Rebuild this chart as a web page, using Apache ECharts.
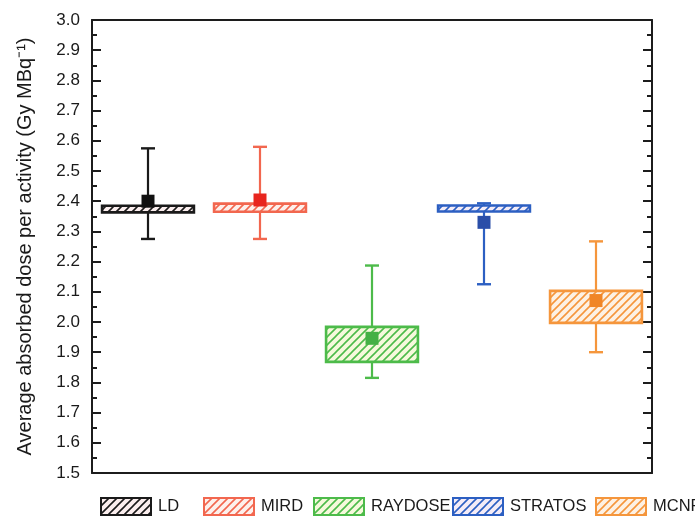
<!DOCTYPE html>
<html>
<head>
<meta charset="utf-8">
<script src="https://cdn.jsdelivr.net/npm/echarts@6/dist/echarts.min.js"></script>
<style>
html,body{margin:0;padding:0;background:#fff;}
#chart{width:695px;height:517px;}
</style>
</head>
<body>
<div id="chart"></div>
<script>
// ---- data ----
var categories = ['LD', 'MIRD', 'RAYDOSE', 'STRATOS', 'MCNP'];
var whiskerLow  = [2.275, 2.275, 1.815, 2.125, 1.900];
var boxLow      = [2.363, 2.365, 1.868, 2.366, 1.997];
var boxHigh     = [2.385, 2.392, 1.984, 2.386, 2.103];
var whiskerHigh = [2.575, 2.580, 2.187, 2.393, 2.267];
var means       = [2.400, 2.404, 1.946, 2.330, 2.071];
var yTicks = [1.5, 1.6, 1.7, 1.8, 1.9, 2.0, 2.1, 2.2, 2.3, 2.4, 2.5, 2.6, 2.7, 2.8, 2.9, 3.0];

// ---- styles ----
var lineColors = ['#1a1a1a', '#f2674f', '#4dbb4a', '#2c5fc2', '#f5963c'];
var markColors = ['#111111', '#e8251e', '#45b045', '#2a4ea8', '#f08526'];
var bgColors   = ['#fbeeee', '#fdf0ec', '#f6f9dc', '#f4ecf7', '#fdf1e4'];
var legendLeft = [100, 203, 313, 452, 595];
var FONT = 'Liberation Sans, Arial, sans-serif';

function hatch(color, bg) {
  var c = document.createElement('canvas');
  c.width = 8; c.height = 8;
  var ctx = c.getContext('2d');
  ctx.fillStyle = bg; ctx.fillRect(0, 0, 8, 8);
  ctx.strokeStyle = color; ctx.lineWidth = 1.6;
  ctx.beginPath();
  ctx.moveTo(0, 8); ctx.lineTo(8, 0);
  ctx.moveTo(-1, 1); ctx.lineTo(1, -1);
  ctx.moveTo(7, 9); ctx.lineTo(9, 7);
  ctx.stroke();
  return { image: c, repeat: 'repeat' };
}
var patterns = categories.map(function (n, i) { return hatch(lineColors[i], bgColors[i]); });

function renderBox(params, api) {
  var idx = api.value(0);
  var x = api.coord([idx, 0])[0];
  var bw = api.size([1, 0])[0] * 0.82;
  var pWL = api.coord([idx, api.value(1)])[1];
  var pBL = api.coord([idx, api.value(2)])[1];
  var pBH = api.coord([idx, api.value(3)])[1];
  var pWH = api.coord([idx, api.value(4)])[1];
  var pM  = api.coord([idx, api.value(5)])[1];
  var col = lineColors[idx];
  var cap = 7, sq = 6.5;
  return {
    type: 'group',
    children: [
      { type: 'line', shape: { x1: x, y1: pWL, x2: x, y2: pWH }, style: { stroke: col, lineWidth: 2.2 } },
      { type: 'line', shape: { x1: x - cap, y1: pWL, x2: x + cap, y2: pWL }, style: { stroke: col, lineWidth: 2.4 } },
      { type: 'line', shape: { x1: x - cap, y1: pWH, x2: x + cap, y2: pWH }, style: { stroke: col, lineWidth: 2.4 } },
      { type: 'rect', shape: { x: x - bw / 2, y: pBH, width: bw, height: pBL - pBH },
        style: { fill: patterns[idx], stroke: col, lineWidth: 2.6 } },
      { type: 'rect', shape: { x: x - sq, y: pM - sq, width: sq * 2, height: sq * 2 },
        style: { fill: markColors[idx], stroke: null } }
    ]
  };
}

var series = categories.map(function (name, i) {
  return {
    type: 'custom',
    name: name,
    renderItem: renderBox,
    itemStyle: { color: lineColors[i] },
    encode: { x: 0, y: [1, 2, 3, 4, 5] },
    data: [[i, whiskerLow[i], boxLow[i], boxHigh[i], whiskerHigh[i], means[i]]],
    z: 10
  };
});

var legends = categories.map(function (name, i) {
  return {
    left: legendLeft[i], top: 497, padding: 0,
    icon: 'rect', itemWidth: 50, itemHeight: 17, itemGap: 0,
    selectedMode: false,
    textStyle: { fontSize: 16.5, color: '#1a1a1a', fontFamily: FONT, padding: [0, 0, 0, 2] },
    data: [{ name: name, itemStyle: { color: patterns[i], borderColor: lineColors[i], borderWidth: 2 } }]
  };
});

var axisLineStyle = { color: '#1c1c1c', width: 2 };
var yBase = {
  type: 'value', min: yTicks[0], max: yTicks[yTicks.length - 1], interval: 0.1,
  axisLine: { show: true, lineStyle: axisLineStyle },
  axisTick: { show: true, inside: true, length: 9, lineStyle: { color: '#1c1c1c', width: 2 } },
  minorTick: { show: true, splitNumber: 2, length: 5, lineStyle: { color: '#1c1c1c', width: 2 } },
  splitLine: { show: false }
};

var option = {
  animation: false,
  backgroundColor: '#ffffff',
  grid: { left: 92, right: 43, top: 20, bottom: 44 },
  legend: legends,
  xAxis: [
    { type: 'category', data: categories, position: 'bottom',
      axisLine: { lineStyle: axisLineStyle },
      axisTick: { inside: true, alignWithLabel: true, length: 8, lineStyle: { color: '#1c1c1c', width: 2 } },
      axisLabel: { show: false }, splitLine: { show: false } },
    { type: 'category', data: categories, position: 'top',
      axisLine: { lineStyle: axisLineStyle },
      axisTick: { inside: true, alignWithLabel: true, length: 8, lineStyle: { color: '#1c1c1c', width: 2 } },
      axisLabel: { show: false }, splitLine: { show: false } }
  ],
  yAxis: [
    Object.assign({}, yBase, {
      position: 'left',
      name: 'Average absorbed dose per activity (Gy MBq\u207B\u00B9)',
      nameLocation: 'middle', nameGap: 57,
      nameTextStyle: { fontSize: 20, color: '#1a1a1a', fontFamily: FONT },
      axisLabel: { show: true, fontSize: 17, color: '#1a1a1a', fontFamily: FONT, margin: 12,
        formatter: function (v) { return v.toFixed(1); } }
    }),
    Object.assign({}, yBase, { position: 'right', axisLabel: { show: false } })
  ],
  series: series
};

var chart = echarts.init(document.getElementById('chart'), null, { renderer: 'canvas' });
chart.setOption(option);
</script>
</body>
</html>
